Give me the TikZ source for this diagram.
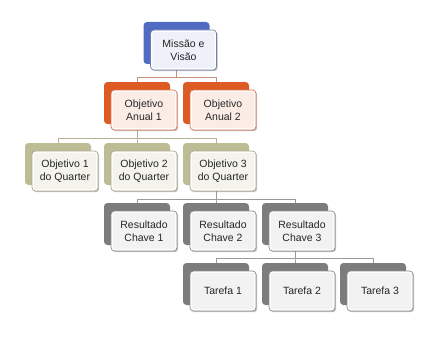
\documentclass[tikz,border=0pt]{standalone}
\usepackage{fontspec}
\setmainfont{Liberation Sans}
\usetikzlibrary{shadows}
\pgfdeclarelayer{bg}
\pgfsetlayers{bg,main}
\definecolor{blueB}{HTML}{4F6CC2}
\definecolor{blueL}{HTML}{6F7FA8}
\definecolor{blueF}{HTML}{EEF1FA}
\definecolor{oraB}{HTML}{DD5A23}
\definecolor{oraL}{HTML}{D8744E}
\definecolor{oraF}{HTML}{FBEDE6}
\definecolor{khaB}{HTML}{BEBC95}
\definecolor{khaL}{HTML}{A8A68A}
\definecolor{khaF}{HTML}{F4F4ED}
\definecolor{grayB}{HTML}{7C7C7C}
\definecolor{grayL}{HTML}{8C8C8C}
\definecolor{grayF}{HTML}{F2F2F2}
\definecolor{connO}{HTML}{C99079}
\definecolor{connK}{HTML}{B3B196}
\definecolor{connG}{HTML}{9A9A9A}
\tikzset{
  backbox/.style={rounded corners=3.5pt, minimum width=66pt, minimum height=42pt, inner sep=0pt, fill=#1},
  frontbox/.style 2 args={rounded corners=3.5pt, minimum width=66pt, minimum height=40pt, inner sep=0pt,
     fill=white, draw=#1, line width=0.7pt,
     drop shadow={shadow xshift=1.2pt, shadow yshift=-1.2pt, opacity=0.25, fill=black},
     path picture={\fill[#2, rounded corners=2pt] ([shift={(1.8pt,-1.8pt)}]path picture bounding box.north west) rectangle ([shift={(-1.8pt,1.8pt)}]path picture bounding box.south east);},
     align=center, text=black!85, font=\fontsize{10.5}{12.5}\selectfont},
  conn/.style={draw=#1, line width=0.8pt}
}
\newcommand\orgbox[7]{%
  \node[backbox=#4] (#1b) at (#2, #3+21) {};
  \node[frontbox={#5}{#6}] (#1) at (#2+7, #3+28) {#7};
}
\begin{document}
\begin{tikzpicture}[x=1pt,y=-1pt]
\useasboundingbox (0,0) rectangle (436,345);
\orgbox{top}{176.5}{22}{blueB}{blueL}{blueF}{Missão e\\Visão}
\orgbox{a1}{137}{82}{oraB}{oraL}{oraF}{Objetivo\\Anual 1}
\orgbox{a2}{216}{82}{oraB}{oraL}{oraF}{Objetivo\\Anual 2}
\orgbox{q1}{58}{143}{khaB}{khaL}{khaF}{Objetivo 1\\do Quarter}
\orgbox{q2}{137}{143}{khaB}{khaL}{khaF}{Objetivo 2\\do Quarter}
\orgbox{q3}{216}{143}{khaB}{khaL}{khaF}{Objetivo 3\\do Quarter}
\orgbox{r1}{137}{203}{grayB}{grayL}{grayF}{Resultado\\Chave 1}
\orgbox{r2}{216}{203}{grayB}{grayL}{grayF}{Resultado\\Chave 2}
\orgbox{r3}{295}{203}{grayB}{grayL}{grayF}{Resultado\\Chave 3}
\orgbox{t1}{216}{263}{grayB}{grayL}{grayF}{Tarefa 1}
\orgbox{t2}{295}{263}{grayB}{grayL}{grayF}{Tarefa 2}
\orgbox{t3}{373}{263}{grayB}{grayL}{grayF}{Tarefa 3}
\coordinate (h2) at (0,77);
\coordinate (h3) at (0,138);
\coordinate (h4) at (0,199);
\coordinate (h5) at (0,258);
\begin{pgfonlayer}{bg}
\foreach \c in {a1b,a2b} \draw[conn=connO] (topb.south) |- (\c.north |- h2) -- (\c.north);
\foreach \c in {q1b,q2b,q3b} \draw[conn=connK] (a1b.south) |- (\c.north |- h3) -- (\c.north);
\foreach \c in {r1b,r2b,r3b} \draw[conn=connG] (q3b.south) |- (\c.north |- h4) -- (\c.north);
\foreach \c in {t1b,t2b,t3b} \draw[conn=connG] (r3b.south) |- (\c.north |- h5) -- (\c.north);
\end{pgfonlayer}
\end{tikzpicture}
\end{document}
